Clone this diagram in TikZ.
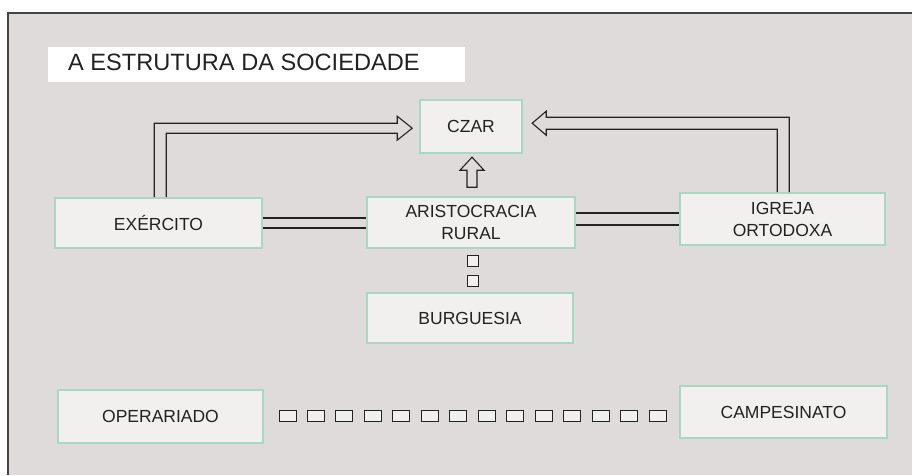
\documentclass[tikz,border=0pt]{standalone}
\usepackage{fontspec}
\setmainfont{Liberation Sans}
\usetikzlibrary{calc}
\definecolor{bgc}{HTML}{DEDBDA}
\definecolor{boxfill}{HTML}{F1F0EF}
\definecolor{boxline}{HTML}{A8D8C0}
\definecolor{ink}{HTML}{222222}
\begin{document}
\begin{tikzpicture}[x=1pt,y=-1pt,
  box/.style={draw=boxline, line width=1.6pt, fill=boxfill, inner sep=0pt, align=center, text=ink, font=\fontsize{17.5}{22}\selectfont},
  tiny/.style={draw=ink, line width=0.9pt, fill=boxfill, inner sep=0pt, minimum width=11pt, minimum height=11pt},
  blk/.style={draw=ink, line width=1.1pt, line join=miter},
  dbl/.style={draw=ink, line width=1.2pt}]
\useasboundingbox (0,0) rectangle (912,475);
\fill[white] (0,0) rectangle (912,475);
\fill[bgc] (8,13) rectangle (912,475);
\draw[ink!85, line width=2pt] (8,475) -- (8,13) -- (912,13);

% title
\fill[white] (48,47) rectangle (465,82);
\node[anchor=base west, inner sep=0pt, text=ink, font=\fontsize{23.6}{28}\selectfont] (title) at (68,70) {A ESTRUTURA DA SOCIEDADE};

% boxes
\node[box, minimum width=102pt, minimum height=53pt] (czar) at (471,126.5) {CZAR};
\node[box, minimum width=207pt, minimum height=50pt] (exercito) at (158.5,223) {EXÉRCITO};
\node[box, minimum width=208pt, minimum height=51pt] (aristo) at (471,222.5) {ARISTOCRACIA\\RURAL};
\node[box, minimum width=205pt, minimum height=52pt] (igreja) at (782.5,219) {IGREJA\\ORTODOXA};
\node[box, minimum width=206pt, minimum height=50pt] (burguesia) at (470,318) {BURGUESIA};
\node[box, minimum width=205pt, minimum height=53pt] (operariado) at (160.5,416.5) {OPERARIADO};
\node[box, minimum width=207pt, minimum height=52pt] (campesinato) at (783.5,412) {CAMPESINATO};

% block arrows
\draw[blk] ([xshift=100pt]exercito.north west) -- ++(0,-74) -- ++(243,0) -- ++(0,-7)
  -- ++(15,12) -- ++(-15,12) -- ++(0,-7) -- ++(-231,0) -- ++(0,64);
\draw[blk] ([xshift=110pt]igreja.north west) -- ++(0,-75) -- ++(-243,0) -- ++(0,-6)
  -- ++(-14,12) -- ++(14,12) -- ++(0,-6) -- ++(231,0) -- ++(0,63);
\draw[blk] ($(aristo.north)+(-4,-9)$) -- ++(0,-17) -- ++(-7,0) -- ++(12,-13) -- ++(12,13)
  -- ++(-7,0) -- ++(0,17) -- cycle;

% double lines
\draw[dbl] ($(exercito.east)+(0,-5)$) -- ($(aristo.west|-exercito.east)+(0,-5)$);
\draw[dbl] ($(exercito.east)+(0,5)$) -- ($(aristo.west|-exercito.east)+(0,5)$);
\draw[dbl] ($(aristo.east|-igreja.west)+(0,-6)$) -- ($(igreja.west)+(0,-6)$);
\draw[dbl] ($(aristo.east|-igreja.west)+(0,6)$) -- ($(igreja.west)+(0,6)$);

% small squares
\node[tiny] (s1) at (472.5,261) {};
\node[tiny] (s2) at (472.5,280.5) {};
\foreach \i in {0,...,13} {
  \node[tiny, minimum width=17pt, minimum height=11pt] (r\i) at ({287.5+28.46*\i},416) {};
}
\end{tikzpicture}
\end{document}
